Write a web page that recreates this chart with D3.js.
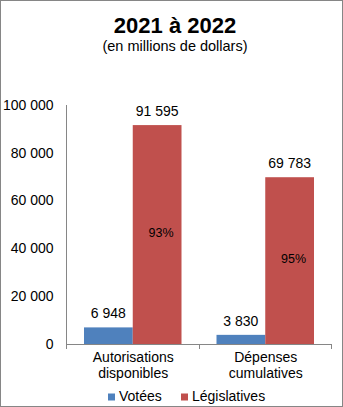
<!DOCTYPE html>
<html><head><meta charset="utf-8">
<script src="https://cdn.jsdelivr.net/npm/d3@7"></script>
<style>
html,body{margin:0;padding:0;background:#fff;}
svg{display:block;font-family:"Liberation Sans",Arial,sans-serif;}
</style></head>
<body>
<script>
const categories = [["Autorisations","disponibles"],["Dépenses","cumulatives"]];
const seriesNames = ["Votées","Législatives"];
const votees = [6948, 3830];
const legislatives = [91595, 69783];
const valueLabels = [["6 948","91 595"],["3 830","69 783"]];
const pctLabels = ["93%","95%"];
const yTicks = [0,20000,40000,60000,80000,100000];
const yTickLabels = ["0","20 000","40 000","60 000","80 000","100 000"];
const colors = ["#4F81BD","#C0504D"];

const W=343,H=407;
const svg=d3.select("body").append("svg").attr("width",W).attr("height",H);
svg.append("rect").attr("x",0.5).attr("y",0.5).attr("width",W-1).attr("height",H-1)
  .attr("fill","#fff").attr("stroke","#868686");

const x0=d3.scaleBand().domain([0,1]).range([67,332]).paddingInner(0).paddingOuter(0);
const y=d3.scaleLinear().domain([0,100000]).range([344,105]);
const x1=d3.scaleBand().domain([0,1]).range([17,x0.bandwidth()-18]);

svg.append("text").attr("x",175).attr("y",32.5).attr("text-anchor","middle")
  .attr("font-size","22px").attr("font-weight","bold").text("2021 à 2022");
svg.append("text").attr("x",175).attr("y",50.5).attr("text-anchor","middle")
  .attr("font-size","14.5px").text("(en millions de dollars)");

// y labels
svg.selectAll(".yl").data(yTicks).enter().append("text")
  .attr("x",53.5).attr("y",d=>y(d)+4.8).attr("text-anchor","end")
  .attr("font-size","14px").text((d,i)=>yTickLabels[i]);

const data=[0,1].map(i=>[votees[i],legislatives[i]]);
const g=svg.selectAll(".cat").data(data).enter().append("g")
  .attr("transform",(d,i)=>`translate(${x0(i)},0)`);
g.selectAll("rect").data(d=>d).enter().append("rect")
  .attr("x",(d,j)=>x1(j)).attr("width",x1.bandwidth())
  .attr("y",d=>y(d)).attr("height",d=>y(0)-y(d))
  .attr("fill",(d,j)=>colors[j]);
g.each(function(d,i){
  const gg=d3.select(this);
  d.forEach((v,j)=>{
    gg.append("text").attr("x",x1(j)+x1.bandwidth()/2).attr("y",y(v)-9)
      .attr("text-anchor","middle").attr("font-size","14px").text(valueLabels[i][j]);
  });
  gg.append("text").attr("x",x1(1)+x1.bandwidth()/2+4).attr("y",(y(d[1])+y(0))/2+2)
    .attr("text-anchor","middle").attr("font-size","12.5px").text(pctLabels[i]);
  gg.append("text").attr("x",x0.bandwidth()/2).attr("y",362).attr("text-anchor","middle")
    .attr("font-size","14px").text(categories[i][0]);
  gg.append("text").attr("x",x0.bandwidth()/2).attr("y",377.5).attr("text-anchor","middle")
    .attr("font-size","14px").text(categories[i][1]);
});

// axes
svg.append("line").attr("x1",66.5).attr("x2",66.5).attr("y1",105).attr("y2",344).attr("stroke","#868686");
svg.append("line").attr("x1",66).attr("x2",332).attr("y1",344.5).attr("y2",344.5).attr("stroke","#868686");
[0,1,2].forEach(k=>{
  const xx=k<2?x0(k):x0.range()[1];
  svg.append("line").attr("x1",Math.round(xx)-0.5).attr("x2",Math.round(xx)-0.5)
    .attr("y1",344).attr("y2",349).attr("stroke","#868686");
});

// legend
const leg=[{x:108,t:seriesNames[0]},{x:181,t:seriesNames[1]}];
leg.forEach((l,i)=>{
  svg.append("rect").attr("x",l.x).attr("y",393.5).attr("width",7).attr("height",7).attr("fill",colors[i]);
  svg.append("text").attr("x",l.x+11).attr("y",401).attr("font-size","14px").text(l.t);
});
</script>
</body></html>
